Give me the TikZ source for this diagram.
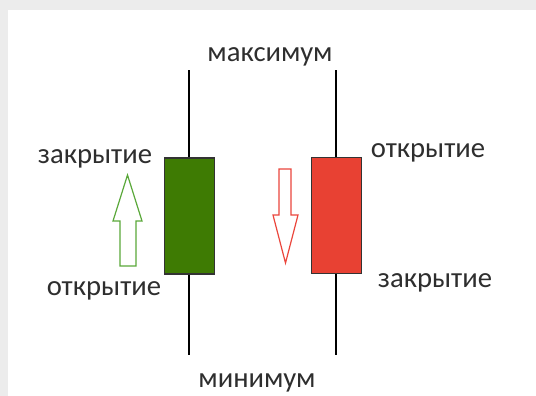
\documentclass[tikz,border=0pt]{standalone}
\usepackage{fontspec}
\setmainfont{Carlito}
\usetikzlibrary{positioning, calc}
\definecolor{bullgreen}{RGB}{62, 123, 3}
\definecolor{bearred}{RGB}{232, 65, 51}
\definecolor{upgreen}{RGB}{90, 168, 58}
\definecolor{downred}{RGB}{235, 70, 60}
\definecolor{framegray}{RGB}{236, 236, 236}

\begin{document}
\begin{tikzpicture}[x=0.75pt, y=-0.75pt,
  candle/.style={draw=black!80, line width=1.2pt, minimum width=37.5pt, minimum height=87pt, inner sep=0pt},
  wick/.style={draw=black, line width=2pt},
  lbl/.style={font=\fontsize{21.5}{25}\selectfont, text=black!82, anchor=base, inner sep=0pt},
  blockarrow/.style={line width=0.9pt, fill=white}
]
  % Frame and background
  \fill[framegray] (0,0) rectangle (536,396);
  \fill[white] (8,10) rectangle (536,396);
  \useasboundingbox (0,0) rectangle (536,396);

  % Wicks
  \coordinate (hiA) at (189,70);
  \coordinate (loA) at (189,355);
  \coordinate (hiB) at (336,70);
  \coordinate (loB) at (336,355);
  \draw[wick] (hiA) -- (loA);
  \draw[wick] (hiB) -- (loB);

  % Candle bodies
  \node[candle, fill=bullgreen] (bull) at (189.5,216) {};
  \node[candle, fill=bearred] (bear) at (336.5,215.5) {};

  % Labels
  \node[lbl] (high) at (270,61) {максимум};
  \node[lbl] (low) at (257,387) {минимум};
  \node[lbl] (closeA) at (95,163) {закрытие};
  \node[lbl] (openA) at (104,295) {открытие};
  \node[lbl] (openB) at (428,157) {открытие};
  \node[lbl] (closeB) at (435,287) {закрытие};

  % Direction arrows
  \draw[blockarrow, draw=upgreen] (127.5,175) -- (142,221) -- (136,221) -- (136,266)
    -- (120,266) -- (120,221) -- (113,221) -- cycle;
  \draw[blockarrow, draw=downred] (279,169) -- (291,169) -- (291,215) -- (298,215)
    -- (285.5,263) -- (273,215) -- (279,215) -- cycle;
\end{tikzpicture}
\end{document}
